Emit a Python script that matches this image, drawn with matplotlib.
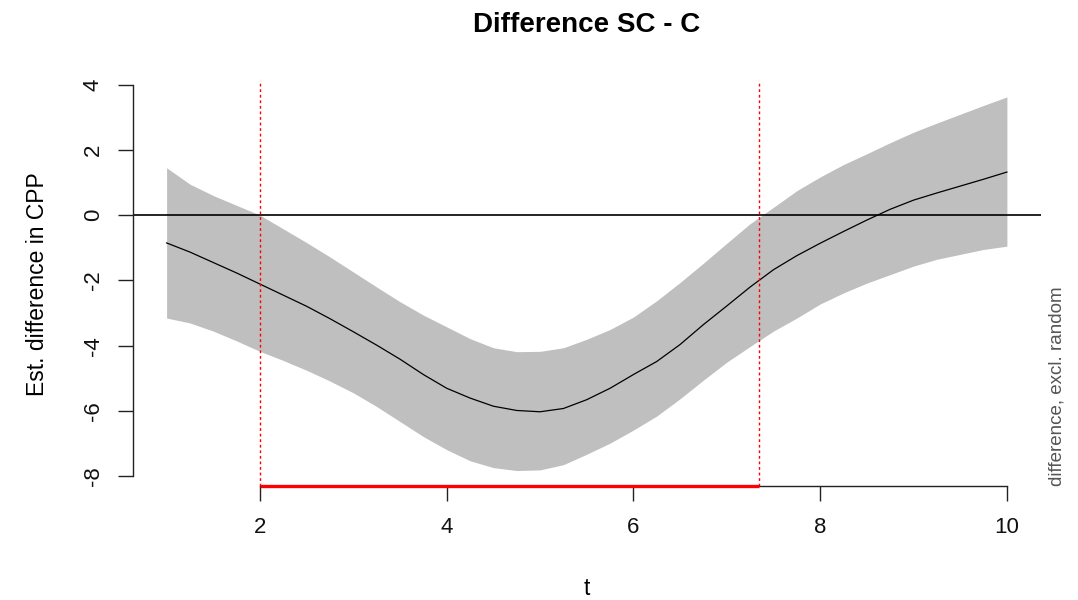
import matplotlib
matplotlib.use("Agg")
import matplotlib.pyplot as plt
import numpy as np

# data (itsadug-style difference plot)
t = [1.00, 1.25, 1.50, 1.75, 2.00, 2.25, 2.50, 2.75, 3.00, 3.25,
     3.50, 3.75, 4.00, 4.25, 4.50, 4.75, 5.00, 5.25, 5.50, 5.75,
     6.00, 6.25, 6.50, 6.75, 7.00, 7.25, 7.50, 7.75, 8.00, 8.25,
     8.50, 8.75, 9.00, 9.25, 9.50, 9.75, 10.00]
est = [-0.85, -1.13, -1.45, -1.77, -2.11, -2.45, -2.79, -3.17, -3.57, -3.98,
       -4.41, -4.88, -5.30, -5.60, -5.85, -5.98, -6.02, -5.92, -5.65, -5.30,
       -4.88, -4.48, -3.96, -3.35, -2.78, -2.20, -1.67, -1.24, -0.86, -0.50,
       -0.15, 0.18, 0.46, 0.68, 0.89, 1.10, 1.32]
upper = [1.45, 0.95, 0.60, 0.30, 0.00, -0.42, -0.84, -1.28, -1.74, -2.20,
         -2.65, -3.06, -3.42, -3.78, -4.06, -4.18, -4.17, -4.06, -3.80, -3.50,
         -3.12, -2.62, -2.06, -1.47, -0.86, -0.26, 0.24, 0.75, 1.17, 1.55,
         1.88, 2.22, 2.54, 2.82, 3.09, 3.36, 3.62]
lower = [-3.15, -3.30, -3.55, -3.85, -4.17, -4.45, -4.75, -5.08, -5.44, -5.86,
         -6.32, -6.78, -7.18, -7.52, -7.73, -7.82, -7.80, -7.64, -7.32, -6.98,
         -6.58, -6.15, -5.62, -5.05, -4.50, -4.02, -3.55, -3.15, -2.72, -2.38,
         -2.08, -1.82, -1.56, -1.35, -1.20, -1.05, -0.95]

sig_start, sig_end = 2.0, 7.35
xticks = [2, 4, 6, 8, 10]
yticks = [-8, -6, -4, -2, 0, 2, 4]

plt.rcParams["font.family"] = ["Liberation Sans", "DejaVu Sans"]

fig = plt.figure(figsize=(10.78, 6), dpi=100)
W, H = 1078, 600
ax = fig.add_axes([133 / W, 1 - 485.5 / H, (1040.5 - 133) / W, (485.5 - 82) / H])

# R-style 4% axis padding
xr = max(t) - min(t)
ax.set_xlim(min(t) - 0.04 * xr, max(t) + 0.04 * xr)
ylo, yhi = min(lower), max(upper)
yr = yhi - ylo
ax.set_ylim(ylo - 0.04 * yr, yhi + 0.04 * yr)

ax.fill_between(t, lower, upper, color="#BFBFBF", linewidth=0, zorder=1)
ax.plot(t, est, color="black", linewidth=0.9, zorder=3)
ax.axhline(0, color="black", linewidth=1.2, zorder=2)

for xv in (sig_start, sig_end):
    ax.axvline(xv, color="red", linewidth=1.0, linestyle=(0, (2, 2)), zorder=4)

ax.plot([sig_start, sig_end], [ax.get_ylim()[0]] * 2, color="red",
        linewidth=2.4, solid_capstyle="butt", clip_on=False, zorder=6)

for s in ("top", "right"):
    ax.spines[s].set_visible(False)
ax.spines["left"].set_bounds(yticks[0], yticks[-1])
ax.spines["bottom"].set_bounds(xticks[0], xticks[-1])
for s in ("left", "bottom"):
    ax.spines[s].set_linewidth(1.0)
    ax.spines[s].set_color("#222222")

ax.set_xticks(xticks)
ax.set_yticks(yticks)
ax.set_yticklabels([str(v) for v in yticks], rotation=90, va="center")
ax.tick_params(axis="both", length=11, width=1.0, color="#222222",
               labelsize=16, labelcolor="#111111")
ax.tick_params(axis="x", pad=12)
ax.tick_params(axis="y", pad=10)

ax.set_xlabel("t", fontsize=16.5, labelpad=28)
ax.set_ylabel("Est. difference in CPP", fontsize=16.5, labelpad=24)
ax.set_title("Difference SC - C", fontsize=20, fontweight="bold", pad=36)

ax.text(1.018, 0.0, "difference, excl. random", transform=ax.transAxes,
        rotation=90, ha="center", va="bottom", fontsize=13.5, color="#555555")

fig.savefig("out.png", dpi=100, facecolor="white")
